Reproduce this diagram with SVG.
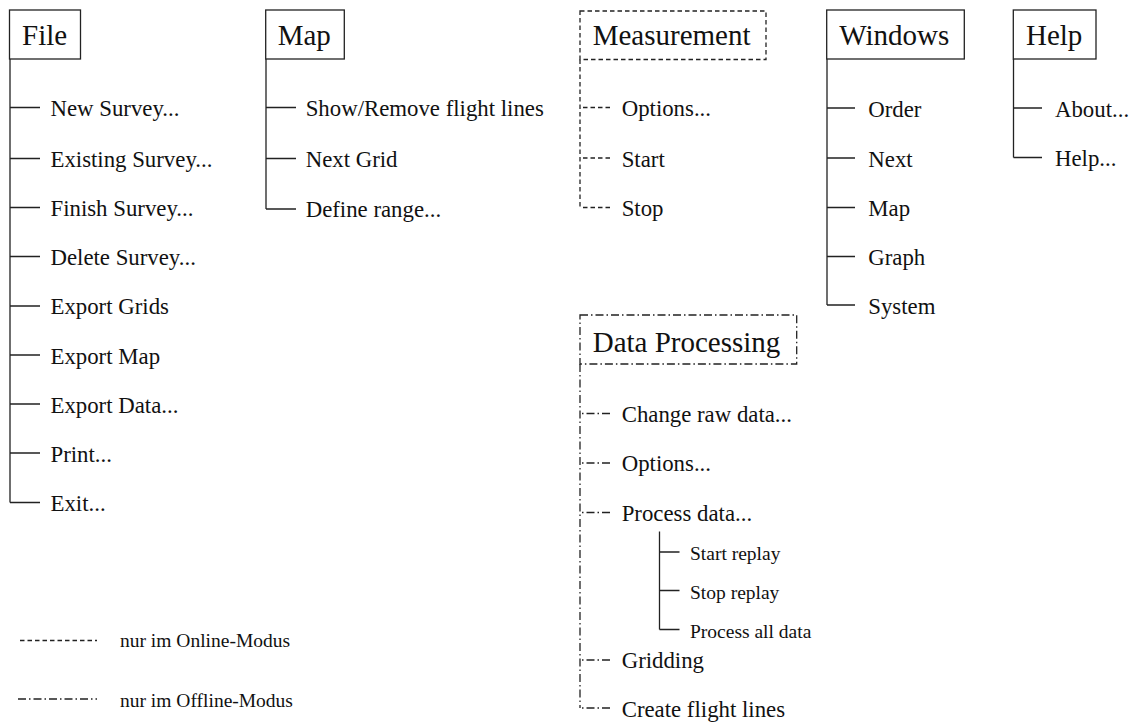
<svg xmlns="http://www.w3.org/2000/svg" width="1135" height="724" viewBox="0 0 1135 724">
  <style>
    text { font-family: "Liberation Serif", "Times New Roman", serif; fill: #111; }
    .title { font-size: 29px; }
    .item { font-size: 22.8px; }
    .sub { font-size: 19.5px; }
    .box { fill: #fff; stroke: #222; stroke-width: 1.3; }
    .ln { fill: none; stroke: #222; stroke-width: 1.3; }
    .online { fill: none; stroke: #222; stroke-width: 1.3; stroke-dasharray: 4.5 3; }
    .offline { fill: none; stroke: #222; stroke-width: 1.3; stroke-dasharray: 8 3 1.5 3; }
  </style>
  <rect width="1135" height="724" fill="#fff"/>

  <!-- menu trees: trunk lines and branch ticks -->
  <g id="connectors">
    <!-- File -->
    <path class="ln" d="M10 59 V502.5 M10 107.5 H40 M10 158.5 H40 M10 207.5 H40 M10 256.5 H40 M10 306 H40 M10 355 H40 M10 404 H40 M10 453 H40 M10 502.5 H40"/>
    <!-- Map -->
    <path class="ln" d="M266 59 V209 M266 107.5 H296 M266 158.5 H296 M266 209 H296"/>
    <!-- Measurement (online only) -->
    <path class="online" d="M580 59.5 V207.5 M610 107.5 H580 M610 158 H580 M610 207.5 H580"/>
    <!-- Windows -->
    <path class="ln" d="M827 59 V305 M827 108 H855 M827 158 H855 M827 207.5 H855 M827 256.5 H855 M827 305 H855"/>
    <!-- Help -->
    <path class="ln" d="M1013.5 59 V157.5 M1013.5 108 H1042 M1013.5 157.5 H1042"/>
    <!-- Data Processing (offline only) -->
    <path class="offline" d="M580 364 V708"/>
    <path class="offline" d="M610 413.5 H580 M610 463 H580 M610 512.5 H580 M610 660 H580 M610 708 H580"/>
    <!-- Process data submenu -->
    <path class="ln" d="M659.5 531.5 V629.5 M659.5 552 H679.5 M659.5 590.5 H679.5 M659.5 629.5 H679.5"/>
  </g>

  <g id="node-file">
    <rect class="box" x="9.5" y="10" width="71" height="49"/>
    <text class="title" x="22" y="45">File</text>
    <text class="item" x="50.5" y="116">New Survey...</text>
    <text class="item" x="50.5" y="166.5">Existing Survey...</text>
    <text class="item" x="50.5" y="215.5">Finish Survey...</text>
    <text class="item" x="50.5" y="265">Delete Survey...</text>
    <text class="item" x="50.5" y="314">Export Grids</text>
    <text class="item" x="50.5" y="363.5">Export Map</text>
    <text class="item" x="50.5" y="412.5">Export Data...</text>
    <text class="item" x="50.5" y="461.5">Print...</text>
    <text class="item" x="50.5" y="511">Exit...</text>
  </g>

  <g id="node-map">
    <rect class="box" x="265.7" y="10" width="78.6" height="49"/>
    <text class="title" x="277.7" y="45">Map</text>
    <text class="item" x="305.7" y="116">Show/Remove flight lines</text>
    <text class="item" x="305.7" y="167">Next Grid</text>
    <text class="item" x="305.7" y="217">Define range...</text>
  </g>

  <g id="node-measurement">
    <rect class="box online" x="580" y="11" width="186" height="48.5" style="fill:#fff"/>
    <text class="title" x="592.7" y="45">Measurement</text>
    <text class="item" x="621.7" y="116">Options...</text>
    <text class="item" x="621.7" y="166.5">Start</text>
    <text class="item" x="621.7" y="216">Stop</text>
  </g>

  <g id="node-windows">
    <rect class="box" x="826.7" y="10" width="137.6" height="49"/>
    <text class="title" x="839.3" y="45">Windows</text>
    <text class="item" x="868.3" y="116.5">Order</text>
    <text class="item" x="868.3" y="166.5">Next</text>
    <text class="item" x="868.3" y="216">Map</text>
    <text class="item" x="868.3" y="265">Graph</text>
    <text class="item" x="868.3" y="313.5">System</text>
  </g>

  <g id="node-help">
    <rect class="box" x="1013.3" y="10" width="82.7" height="49"/>
    <text class="title" x="1026" y="45">Help</text>
    <text class="item" x="1055" y="116.5">About...</text>
    <text class="item" x="1055" y="166">Help...</text>
  </g>

  <g id="node-data-processing">
    <rect class="box offline" x="580" y="315" width="216.7" height="49" style="fill:#fff"/>
    <text class="title" x="592.7" y="351.7">Data Processing</text>
    <text class="item" x="621.7" y="422">Change raw data...</text>
    <text class="item" x="621.7" y="471">Options...</text>
    <text class="item" x="621.7" y="520.5">Process data...</text>
    <text class="sub" x="690" y="560">Start replay</text>
    <text class="sub" x="690" y="599">Stop replay</text>
    <text class="sub" x="690" y="637.5">Process all data</text>
    <text class="item" x="621.7" y="668">Gridding</text>
    <text class="item" x="621.7" y="716.5">Create flight lines</text>
  </g>

  <g id="legend">
    <path class="online" d="M20 640.5 H97"/>
    <text class="sub" x="120" y="647">nur im Online-Modus</text>
    <path class="offline" d="M18 699 H97"/>
    <text class="sub" x="120" y="707">nur im Offline-Modus</text>
  </g>
</svg>
